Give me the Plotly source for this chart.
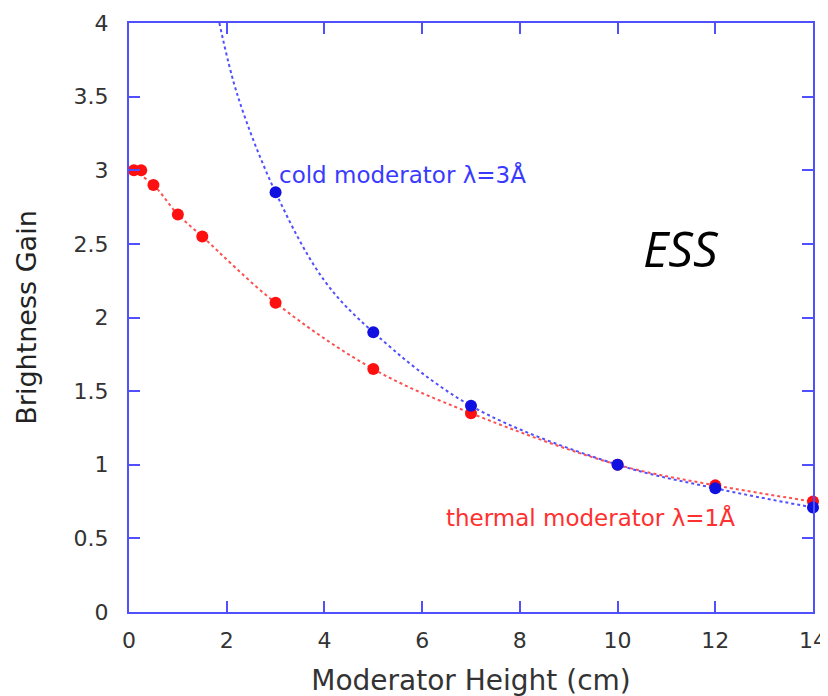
import plotly.graph_objects as go

# Data
thermal_x = [0.1, 0.25, 0.5, 1.0, 1.5, 3.0, 5.0, 7.0, 10.0, 12.0, 14.0]
thermal_y = [3.0, 3.0, 2.9, 2.7, 2.55, 2.1, 1.65, 1.35, 1.0, 0.86, 0.75]

cold_x = [3.0, 5.0, 7.0, 10.0, 12.0, 14.0]
cold_y = [2.85, 1.9, 1.4, 1.0, 0.84, 0.71]

# fitted-curve points
cold_curve_x = [1.85, 2.23, 3.0, 4.0, 5.0, 7.0, 10.0, 12.0, 14.0]
cold_curve_y = [4.0, 3.5, 2.85, 2.25, 1.9, 1.4, 1.0, 0.84, 0.71]
thermal_curve_x = [0.0, 0.5, 1.0, 1.5, 3.0, 5.0, 7.0, 10.0, 12.0, 14.0]
thermal_curve_y = [3.02, 2.9, 2.7, 2.55, 2.1, 1.65, 1.35, 1.0, 0.86, 0.75]

x_ticks = [0, 2, 4, 6, 8, 10, 12, 14]
y_ticks = [0, 0.5, 1, 1.5, 2, 2.5, 3, 3.5, 4]
y_tick_text = ["0", "0.5", "1", "1.5", "2", "2.5", "3", "3.5", "4"]

RED = "#ff1010"
BLUE = "#1010e0"
AXIS = "#5050ff"
FONT = "DejaVu Sans, Liberation Sans, Arial"

fig = go.Figure()
fig.add_trace(go.Scatter(x=thermal_curve_x, y=thermal_curve_y, mode="lines",
                         line=dict(color="#ff5050", width=2, dash="dot", shape="spline"),
                         hoverinfo="skip", showlegend=False))
fig.add_trace(go.Scatter(x=cold_curve_x, y=cold_curve_y, mode="lines",
                         line=dict(color="#5050ff", width=2, dash="dot", shape="spline"),
                         hoverinfo="skip", showlegend=False))
fig.add_trace(go.Scatter(x=thermal_x, y=thermal_y, mode="markers",
                         marker=dict(color=RED, size=12), showlegend=False,
                         name="thermal moderator λ=1Å", cliponaxis=False))
fig.add_trace(go.Scatter(x=cold_x, y=cold_y, mode="markers",
                         marker=dict(color=BLUE, size=12), showlegend=False,
                         name="cold moderator λ=3Å", cliponaxis=False))

fig.add_annotation(x=3.03, y=2.97, text="cold moderator λ=3Å", showarrow=False,
                   xanchor="left", yanchor="middle",
                   font=dict(family=FONT, size=23, color="#3a3aff"))
fig.add_annotation(x=12.45, y=0.64, text="thermal moderator λ=1Å", showarrow=False,
                   xanchor="right", yanchor="middle",
                   font=dict(family=FONT, size=23, color="#ff3030"))
fig.add_annotation(x=11.3, y=2.47, text="<i>ESS</i>", showarrow=False,
                   xanchor="center", yanchor="middle",
                   font=dict(family="Open Sans, Liberation Sans", size=49, color="black"))

axis_common = dict(showline=True, linecolor=AXIS, linewidth=2, mirror="allticks",
                   ticks="inside", ticklen=11, tickwidth=2, tickcolor=AXIS,
                   showgrid=False, zeroline=False, automargin=False,
                   tickfont=dict(family=FONT, size=22, color="#333333"))

fig.update_xaxes(range=[0, 14], tickvals=x_ticks, ticklabelstandoff=8,
                 title=dict(text="Moderator Height (cm)", standoff=18,
                            font=dict(family=FONT, size=28, color="#333333")),
                 **axis_common)
fig.update_yaxes(range=[0, 4], tickvals=y_ticks, ticktext=y_tick_text, ticklabelstandoff=14,
                 title=dict(text="Brightness Gain", standoff=29,
                            font=dict(family=FONT, size=27, color="#222222")),
                 **axis_common)

fig.update_layout(width=828, height=696, plot_bgcolor="white", paper_bgcolor="white",
                  margin=dict(l=121, r=23, t=15, b=92), showlegend=False)

fig.write_html("out.html")
